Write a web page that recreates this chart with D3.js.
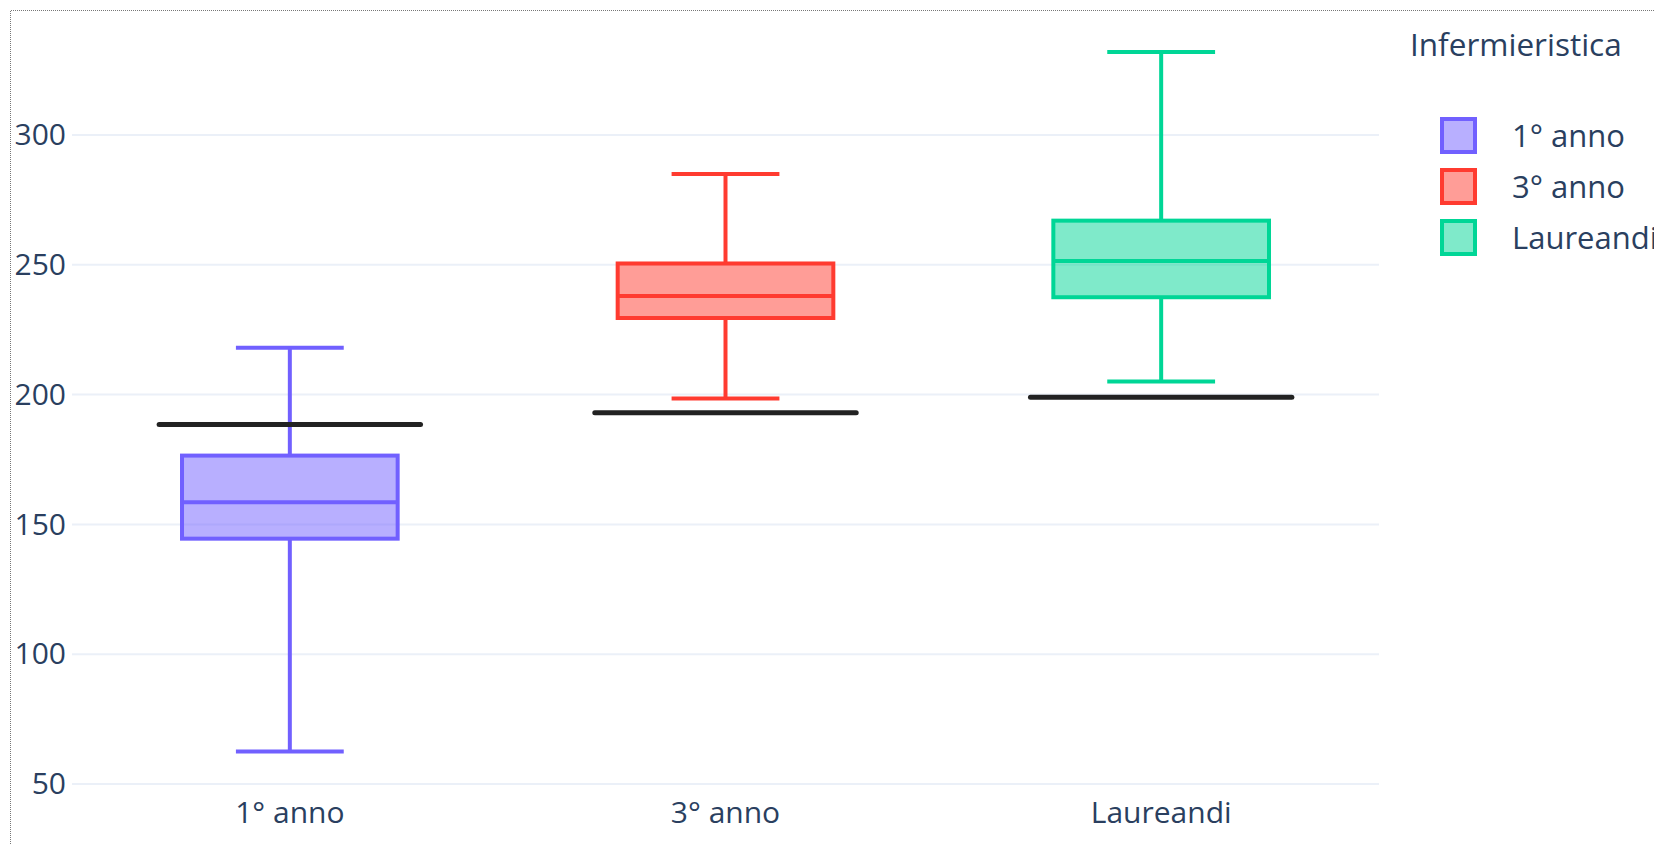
<!DOCTYPE html>
<html>
<head>
<meta charset="utf-8">
<script src="https://cdn.jsdelivr.net/npm/d3@7"></script>
<style>
  html, body { margin: 0; padding: 0; background: #ffffff; }
  svg { display: block; font-family: "Open Sans", "Noto Sans", sans-serif; }
</style>
</head>
<body>
<svg id="chart" width="1654" height="844"></svg>
<script>
// ---- data ----
const categories = ["1° anno", "3° anno", "Laureandi"];
const lowerWhisker = [62.5, 198.5, 205];
const q1 = [144.5, 229.5, 237.5];
const median = [158.5, 238, 251.5];
const q3 = [176.5, 250.5, 267];
const upperWhisker = [218, 285, 332];
const referenceLine = [188.5, 193, 199];
const yTicks = [50, 100, 150, 200, 250, 300];
const legendTitle = "Infermieristica";
const seriesColors = ["#7160ff", "#ff3b30", "#00d696"];

// ---- layout ----
const svg = d3.select("#chart");
const W = 1654, H = 844;
const plot = { left: 72, right: 1379, top: 14, bottom: 790 };
const textColor = "#2a3f5f";
const fontSize = 30;

const x = d3.scaleBand().domain(categories).range([plot.left, plot.right]).padding(0);
const y = d3.scaleLinear().domain([47.69, 346.6]).range([plot.bottom, plot.top]);

// dotted frame
svg.append("path")
  .attr("d", `M10.5,${H} V10.5 H${W}`)
  .attr("fill", "none")
  .attr("stroke", "#777")
  .attr("stroke-width", 1)
  .attr("stroke-dasharray", "1,1");

// gridlines
svg.append("g").selectAll("line").data(yTicks).join("line")
  .attr("x1", plot.left).attr("x2", plot.right)
  .attr("y1", d => y(d)).attr("y2", d => y(d))
  .attr("stroke", "#ebf0f8").attr("stroke-width", 2);

// y axis labels
const yAxis = d3.axisLeft(y).tickValues(yTicks).tickSize(0).tickPadding(6).tickFormat(d3.format("d"));
const gy = svg.append("g").attr("transform", `translate(${plot.left},0)`).call(yAxis);
gy.select(".domain").remove();
gy.selectAll("text").attr("fill", textColor).attr("font-size", fontSize)
  .attr("font-family", "Open Sans, Noto Sans, sans-serif");

// x axis labels
const xAxis = d3.axisBottom(x).tickSize(0).tickPadding(16);
const gx = svg.append("g").attr("transform", `translate(0,${y(50) + 2})`).call(xAxis);
gx.select(".domain").remove();
gx.selectAll("text").attr("fill", textColor).attr("font-size", fontSize)
  .attr("font-family", "Open Sans, Noto Sans, sans-serif");

// boxes
const boxFrac = 0.495;
const data = categories.map((c, i) => ({
  c, i, lo: lowerWhisker[i], q1: q1[i], med: median[i], q3: q3[i], hi: upperWhisker[i], ref: referenceLine[i], color: seriesColors[i]
}));

const g = svg.append("g");
const groups = g.selectAll("g.box").data(data).join("g").attr("class", "box");
const cx = d => x(d.c) + x.bandwidth() / 2;
const bw = x.bandwidth() * boxFrac;
const lw = 4;

// whiskers
groups.append("line")
  .attr("x1", cx).attr("x2", cx)
  .attr("y1", d => y(d.hi)).attr("y2", d => y(d.q3))
  .attr("stroke", d => d.color).attr("stroke-width", lw);
groups.append("line")
  .attr("x1", cx).attr("x2", cx)
  .attr("y1", d => y(d.q1)).attr("y2", d => y(d.lo))
  .attr("stroke", d => d.color).attr("stroke-width", lw);
// caps
groups.append("line")
  .attr("x1", d => cx(d) - bw / 4).attr("x2", d => cx(d) + bw / 4)
  .attr("y1", d => y(d.hi)).attr("y2", d => y(d.hi))
  .attr("stroke", d => d.color).attr("stroke-width", lw);
groups.append("line")
  .attr("x1", d => cx(d) - bw / 4).attr("x2", d => cx(d) + bw / 4)
  .attr("y1", d => y(d.lo)).attr("y2", d => y(d.lo))
  .attr("stroke", d => d.color).attr("stroke-width", lw);
// box
groups.append("rect")
  .attr("x", d => cx(d) - bw / 2).attr("width", bw)
  .attr("y", d => y(d.q3)).attr("height", d => y(d.q1) - y(d.q3))
  .attr("fill", d => d.color).attr("fill-opacity", 0.5)
  .attr("stroke", d => d.color).attr("stroke-width", lw);
// median
groups.append("line")
  .attr("x1", d => cx(d) - bw / 2).attr("x2", d => cx(d) + bw / 2)
  .attr("y1", d => y(d.med)).attr("y2", d => y(d.med))
  .attr("stroke", d => d.color).attr("stroke-width", lw);

// reference (black) lines
groups.append("line")
  .attr("x1", d => cx(d) - x.bandwidth() * 0.3).attr("x2", d => cx(d) + x.bandwidth() * 0.3)
  .attr("y1", d => y(d.ref)).attr("y2", d => y(d.ref))
  .attr("stroke", "#222").attr("stroke-width", 5).attr("stroke-linecap", "round");

// legend
const legend = svg.append("g").attr("transform", "translate(1410,0)");
legend.append("text")
  .attr("x", 0).attr("y", 56)
  .attr("fill", textColor).attr("font-size", 31.5)
  .text(legendTitle);
const items = legend.selectAll("g.item").data(data).join("g").attr("class", "item")
  .attr("transform", (d, i) => `translate(0,${136 + i * 51})`);
items.append("rect")
  .attr("x", 32).attr("y", -17).attr("width", 33).attr("height", 33)
  .attr("fill", d => d.color).attr("fill-opacity", 0.5)
  .attr("stroke", d => d.color).attr("stroke-width", 4);
items.append("text")
  .attr("x", 102).attr("y", 0).attr("dy", "0.36em")
  .attr("fill", textColor).attr("font-size", 31)
  .text(d => d.c);
</script>
</body>
</html>
